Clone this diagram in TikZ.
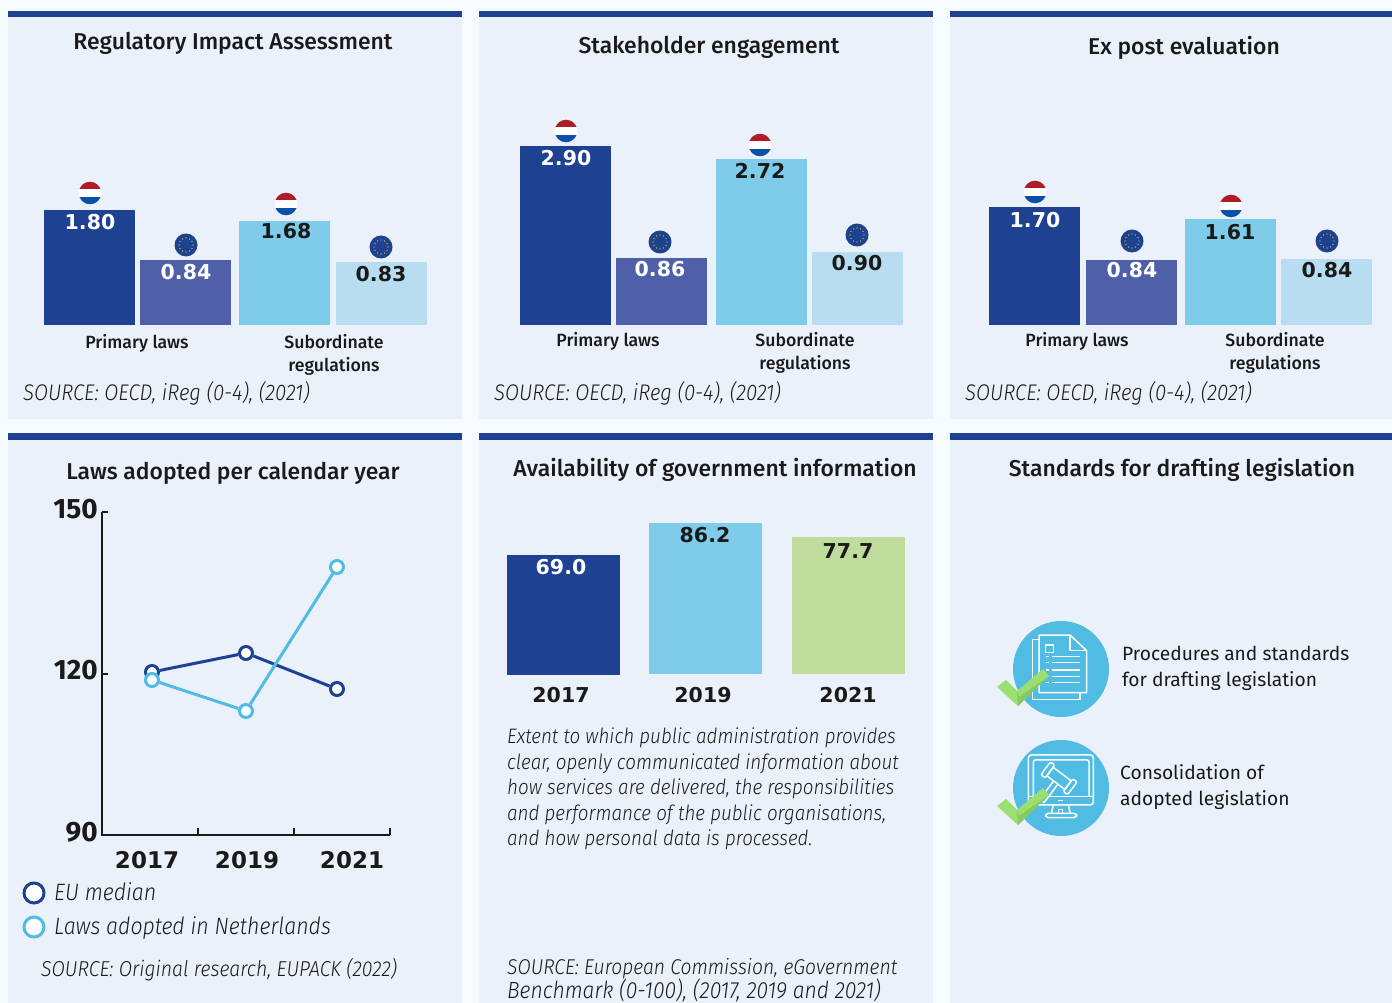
\documentclass[tikz,border=0pt]{standalone}
\usepackage{fontspec}
\setmainfont{Fira Sans}
\newfontfamily\medfont{Fira Sans Medium}
\newfontfamily\lightfont[FakeStretch=0.9,ItalicFont={Fira Sans Light Italic}]{Fira Sans Light}
\newfontfamily\valfont{DejaVu Sans}
\usetikzlibrary{calc}
\definecolor{navy}{HTML}{1F4191}
\definecolor{midblue}{HTML}{5060A8}
\definecolor{skyb}{HTML}{7FCBEA}
\definecolor{paleb}{HTML}{B8DDF1}
\definecolor{panelbg}{HTML}{EAF1FA}
\definecolor{pagebg}{HTML}{F6FBFF}
\definecolor{lineb}{HTML}{50BCE3}
\definecolor{palegreen}{HTML}{C0DC9C}
\definecolor{chk}{HTML}{9ADF70}
\definecolor{chkd}{HTML}{88C766}
\definecolor{nlred}{HTML}{AE1C28}
\definecolor{nlblue}{HTML}{0B50A8}
\definecolor{ink}{HTML}{1A1A1A}
\tikzset{
  x=1pt,y=-1pt,
  txt/.style={inner sep=0pt,text=ink,anchor=mid,align=center,yshift=-5.5pt},
  title/.style={txt,font=\medfont\fontsize{22.9}{26}\selectfont},
  cat/.style={txt,font=\medfont\fontsize{17.7}{23}\selectfont},
  src/.style={txt,anchor=mid west,font=\lightfont\fontsize{21.6}{25}\selectfont\itshape},
  srcw/.style={src,font=\lightfont\fontsize{22.6}{25}\selectfont\itshape},
  val/.style={txt,font=\valfont\fontsize{20.5}{24}\selectfont\bfseries},
  wval/.style={val,text=white},
  year/.style={val},
  bigyear/.style={val,font=\valfont\fontsize{23}{26}\selectfont\bfseries},
  axn/.style={txt,anchor=mid east,font=\fontsize{28}{30}\selectfont\bfseries},
  body/.style={txt,anchor=mid west,font=\fontsize{19.2}{25}\selectfont},
  itbody/.style={txt,anchor=mid west,font=\lightfont\fontsize{20.9}{25}\selectfont\itshape},
  legtxt/.style={txt,anchor=mid west,font=\lightfont\fontsize{23.7}{26}\selectfont\itshape},
  ptA/.style={circle,draw=navy,fill=white,line width=3pt,minimum size=13pt,inner sep=0pt},
  ptB/.style={circle,draw=lineb,fill=white,line width=3pt,minimum size=13pt,inner sep=0pt},
  legA/.style={circle,draw=navy,fill=white,line width=3pt,minimum size=20pt,inner sep=0pt},
  legB/.style={circle,draw=lineb,fill=white,line width=3pt,minimum size=20pt,inner sep=0pt},
  linkA/.style={draw=navy,line width=3pt},
  linkB/.style={draw=lineb,line width=3pt},
  ic/.style={draw=white,line width=1.5pt,line join=round},
  axis/.style={draw=ink,line width=1.2pt},
}
\newcommand{\panel}[4]{\fill[panelbg] (#1,#2) rectangle (#3,#4); \fill[navy] (#1,#2) rectangle (#3,#2+6.5);}
\newcommand{\flagnl}[2]{\begin{scope}\clip (#1,#2) circle[radius=11.3pt];
 \fill[nlred] (#1-12,#2-12) rectangle (#1+12,#2-3.6);
 \fill[white] (#1-12,#2-3.6) rectangle (#1+12,#2+4);
 \fill[nlblue] (#1-12,#2+4) rectangle (#1+12,#2+12);\end{scope}}
\newcommand{\flageu}[2]{\fill[navy] (#1,#2) circle[radius=11.5pt];
 \foreach \a in {0,30,...,330}{\fill[yellow!85!orange] ($(#1,#2)+(\a:7pt)$) circle[radius=.6pt];}}
\newcommand{\chkmark}[1]{\begin{scope}[yshift=#1]
 \fill[chk] (997,687)--(1006,680)--(1017,691)--(1043,669)--(1049,676)--(1018,706)--cycle;
 \fill[chkd] (1017,691)--(1019,697)--(1049,676)--(1018,706)--cycle;
 \end{scope}}
\begin{document}
\begin{tikzpicture}
\useasboundingbox (0,0) rectangle (1392,1003);
\fill[pagebg] (0,0) rectangle (1392,1003);
\panel{8}{11}{462}{419}\panel{479}{11}{933}{419}\panel{950}{11}{1392}{419}
\panel{8}{433}{462}{1003}\panel{479}{433}{933}{1003}\panel{950}{433}{1392}{1003}
% titles
\node[title] (t1) at (233,41) {Regulatory Impact Assessment};
\node[title] (t2) at (709,45) {Stakeholder engagement};
\node[title] (t3) at (1184,46) {Ex post evaluation};
\node[title] (t4) at (233,471.5) {Laws adopted per calendar year};
\node[title] (t5) at (715,468) {Availability of government information};
\node[title] (t6) at (1182,468) {Standards for drafting legislation};
% panel 1
\fill[navy] (44,210) rectangle (135,325);
\fill[midblue] (140,260) rectangle (231,325);
\fill[skyb] (239,221) rectangle (330,325);
\fill[paleb] (336,262) rectangle (427,325);
\flagnl{90}{193}\flageu{186}{245}\flagnl{286}{204}\flageu{381}{247}
\node[wval] (a1) at (90,221) {1.80};
\node[wval] (a2) at (186,271) {0.84};
\node[val] (a3) at (286,230) {1.68};
\node[val] (a4) at (381,273) {0.83};
\node[cat] (a5) at (137,340) {Primary laws};
\node[cat] (a6) at (334,363) {Subordinate\\regulations};
\node[srcw] (a7) at (23,392) {SOURCE: OECD, iReg (0-4), (2021)};
% panel 2
\fill[navy] (520,146) rectangle (611,325);
\fill[midblue] (616,258) rectangle (707,325);
\fill[skyb] (716,159) rectangle (807,325);
\fill[paleb] (812,252) rectangle (903,325);
\flagnl{566}{131}\flageu{660}{242}\flagnl{760}{145}\flageu{857}{235}
\node[wval] (b1) at (566,157) {2.90};
\node[wval] (b2) at (660,268) {0.86};
\node[val] (b3) at (760,170) {2.72};
\node[val] (b4) at (857,262) {0.90};
\node[cat] (b5) at (608,338) {Primary laws};
\node[cat] (b6) at (805,361) {Subordinate\\regulations};
\node[srcw] (b7) at (494,392) {SOURCE: OECD, iReg (0-4), (2021)};
% panel 3
\fill[navy] (989,207) rectangle (1080,325);
\fill[midblue] (1086,260) rectangle (1177,325);
\fill[skyb] (1185,219) rectangle (1276,325);
\fill[paleb] (1281,259) rectangle (1372,325);
\flagnl{1035}{192}\flageu{1132}{241}\flagnl{1231}{206}\flageu{1327}{241}
\node[wval] (c1) at (1035,219) {1.70};
\node[wval] (c2) at (1132,269) {0.84};
\node[val] (c3) at (1230,231) {1.61};
\node[val] (c4) at (1327,269) {0.84};
\node[cat] (c5) at (1077,338) {Primary laws};
\node[cat] (c6) at (1275,361) {Subordinate\\regulations};
\node[srcw] (c7) at (965,392) {SOURCE: OECD, iReg (0-4), (2021)};
% line chart
\coordinate (o) at (102,835);
\coordinate (top) at (102,512);
\coordinate (xe) at (390,835);
\draw[axis] (top) -- (o) -- (xe);
\draw[axis] (top) -- ++(6,0);
\draw[axis] (102,674) -- ++(6,0);
\draw[axis] (198,835) -- ++(0,-7);
\draw[axis] (294,835) -- ++(0,-7);
\draw[axis] (xe) -- ++(0,-7);
\node[axn] (y1) at (98,510) {150};
\node[axn] (y2) at (98,671) {120};
\node[axn] (y3) at (98,833.5) {90};
\node[bigyear] (x1) at (147,860) {2017};
\node[bigyear] (x2) at (247,860) {2019};
\node[bigyear] (x3) at (352,860) {2021};
\node[ptA] (e1) at (152,672) {};
\node[ptA] (e2) at (246,653) {};
\node[ptA] (e3) at (337,689) {};
\draw[linkA] (e1) -- (e2);
\draw[linkA] (e2) -- (e3);
\node[ptB] (n1) at (152,680) {};
\node[ptB] (n2) at (246,711) {};
\node[ptB] (n3) at (337,567) {};
\draw[linkB] (n1) -- (n2);
\draw[linkB] (n2) -- (n3);
\node[legA] (l1) at (34,893) {};
\node[legB] (l2) at (34,927) {};
\node[legtxt] (l1t) at (54,892) {EU median};
\node[legtxt] (l2t) at (54,926) {Laws adopted in Netherlands};
\node[src] (d7) at (41,968) {SOURCE: Original research, EUPACK (2022)};
% panel 5
\fill[navy] (507,555) rectangle (620,675);
\fill[skyb] (649,523) rectangle (762,674);
\fill[palegreen] (792,537) rectangle (905,674);
\node[wval] (f1) at (561,566) {69.0};
\node[val] (f2) at (705,534) {86.2};
\node[val] (f3) at (848,550) {77.7};
\node[year] (f4) at (561,694) {2017};
\node[year] (f5) at (703,694) {2019};
\node[year] (f6) at (848,694) {2021};
\node[itbody] (g1) at (507,735) {Extent to which public administration provides};
\node[itbody] (g2) at (507,761) {clear, openly communicated information about};
\node[itbody] (g3) at (507,786) {how services are delivered, the responsibilities};
\node[itbody] (g4) at (507,812) {and performance of the public organisations,};
\node[itbody] (g5) at (507,837) {and how personal data is processed.};
\node[src,font=\lightfont\fontsize{21.4}{25}\selectfont\itshape] (g6) at (507,966) {SOURCE: European Commission, eGovernment};
\node[src,font=\lightfont\fontsize{23.4}{25}\selectfont\itshape] (g7) at (507,990) {Benchmark (0-100), (2017, 2019 and 2021)};
% panel 6
\fill[lineb] (1061,669) circle[radius=48pt];
\fill[lineb] (1061,788) circle[radius=48pt];
\begin{scope}[shift={(980,610)},x=.3333pt,y=-.3333pt]
 \draw[ic] (177,75)--(270,75)--(320,122)--(320,248)--(177,248)--cycle;
 \draw[ic] (270,75)--(270,122)--(320,122);
 \draw[ic] (177,88)--(158,88)--(158,268)--(300,268)--(300,248);
 \draw[ic] (197,105) rectangle (220,128);
 \foreach \yy in {140,158,180,200,218}{
   \draw[ic] (197,\yy)--(207,\yy);
   \draw[ic] (217,\yy)--(300,\yy);}
 % monitor
 \draw[ic,rounded corners=3pt] (145,435) rectangle (340,585);
 \draw[ic,rounded corners=2pt] (160,560)--(160,450)--(327,450)--(327,560);
 \draw[ic] (145,560)--(340,560);
 \draw[ic] (235,572)--(250,572);
 \draw[ic] (220,585)--(214,610);
 \draw[ic] (265,585)--(271,610);
 \draw[ic,rounded corners=3pt] (197,610) rectangle (290,623);
 \draw[ic] (235,610)--(235,598)--(248,598)--(248,610);
 % gavel
 \begin{scope}[shift={(237,505)},rotate=-37]
  \draw[ic] (-34,-16) rectangle (34,16);
  \draw[ic,rounded corners=2pt] (-50,-24) rectangle (-34,24);
  \draw[ic,rounded corners=2pt] (34,-24) rectangle (50,24);
  \draw[ic] (-8,16)--(-8,85)--(8,85)--(8,16);
 \end{scope}
\end{scope}
\chkmark{0pt}
\chkmark{-119pt}
\node[body] (h1) at (1122,652) {Procedures and standards};
\node[body] (h2) at (1122,678) {for drafting legislation};
\node[body] (h3) at (1120,771) {Consolidation of};
\node[body] (h4) at (1120,797) {adopted legislation};
\end{tikzpicture}
\end{document}
